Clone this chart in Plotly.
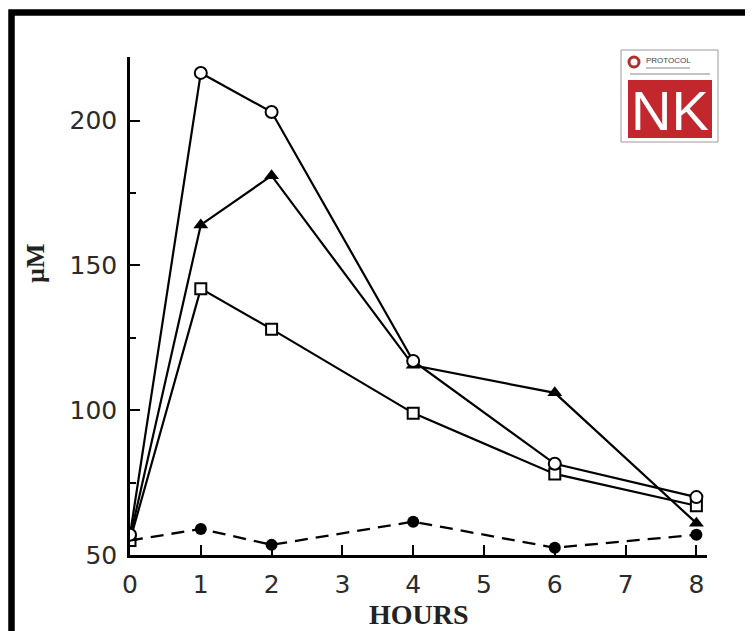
import plotly.graph_objects as go

hours = [0, 1, 2, 4, 6, 8]
open_circle = [57, 216.5, 203, 117, 81.5, 70]
filled_triangle = [56, 164, 181, 115.5, 106, 61]
open_square = [55, 142, 128, 99, 78, 67]
filled_circle = [55, 59, 53.5, 61.5, 52.5, 57]

x_ticks = [0, 1, 2, 3, 4, 5, 6, 7, 8]
y_ticks = [50, 100, 150, 200]

OFF = 8  # page body margin
W, H = 745, 623
L, T = 130 - OFF, 57 - OFF
R = W - (707 - OFF)
B = H - (555 - OFF)
PW, PH = W - L - R, H - T - B


def px(p):
    return (p - OFF - L) / PW


def py(q):
    return (H - B - (q - OFF)) / PH


fig = go.Figure()

common_line = dict(color="black", width=2.2)

fig.add_trace(go.Scatter(x=hours, y=filled_circle, mode="lines+markers",
                         line=dict(color="black", width=2.3, dash="13px,8px"),
                         marker=dict(symbol="circle", size=12, color="black"),
                         showlegend=False))
fig.add_trace(go.Scatter(x=hours, y=open_square, mode="lines+markers",
                         line=common_line,
                         marker=dict(symbol="square", size=11, color="white",
                                     line=dict(color="black", width=2)),
                         showlegend=False))
fig.add_trace(go.Scatter(x=hours, y=filled_triangle, mode="lines+markers",
                         line=common_line,
                         marker=dict(symbol="triangle-up", size=13, color="black"),
                         showlegend=False))
fig.add_trace(go.Scatter(x=hours, y=open_circle, mode="lines+markers",
                         line=common_line,
                         marker=dict(symbol="circle", size=12, color="white",
                                     line=dict(color="black", width=2)),
                         showlegend=False))

tickfont = dict(family="DejaVu Sans", size=25, color="#2b2b2b")

fig.update_xaxes(range=[0, 8.15], tickvals=x_ticks, ticktext=[str(v) for v in x_ticks],
                 ticks="inside", ticklen=10, tickwidth=2, tickcolor="black",
                 showline=True, linecolor="black", linewidth=2.5,
                 showgrid=False, zeroline=False, tickfont=tickfont,
                 ticklabelstandoff=5)
fig.update_yaxes(range=[50, 222], tickvals=y_ticks, ticktext=[str(v) for v in y_ticks],
                 ticks="inside", ticklen=10, tickwidth=2, tickcolor="black",
                 minor=dict(tickvals=[75, 125, 175], ticks="inside", ticklen=6,
                            tickwidth=2, tickcolor="black"),
                 showline=True, linecolor="black", linewidth=2.5,
                 showgrid=False, zeroline=False, tickfont=tickfont,
                 ticklabelstandoff=5)

shapes = []
# outer frame
shapes.append(dict(type="rect", xref="paper", yref="paper",
                   x0=px(11.5), x1=px(750), y0=py(12.5), y1=py(660),
                   line=dict(color="black", width=6.5), fillcolor="rgba(0,0,0,0)", layer="above"))
# logo
shapes.append(dict(type="rect", xref="paper", yref="paper",
                   x0=px(621), x1=px(718), y0=py(142), y1=py(50),
                   line=dict(color="#9a9a9a", width=1), fillcolor="white", layer="above"))
shapes.append(dict(type="rect", xref="paper", yref="paper",
                   x0=px(628), x1=px(712), y0=py(138), y1=py(80),
                   line=dict(width=0), fillcolor="#c1272d", layer="above"))
shapes.append(dict(type="circle", xref="paper", yref="paper",
                   x0=px(629), x1=px(639), y0=py(67), y1=py(57),
                   line=dict(color="#b52a2a", width=3), fillcolor="white", layer="above"))
for (a, b, yy) in [(646, 690, 68), (630, 710, 74)]:
    shapes.append(dict(type="line", xref="paper", yref="paper",
                       x0=px(a), x1=px(b), y0=py(yy), y1=py(yy),
                       line=dict(color="#8a8a8a", width=1.2), layer="above"))

annotations = [
    dict(text="<b>HOURS</b>", xref="paper", yref="paper", x=px(419), y=py(614),
         showarrow=False, font=dict(family="Liberation Serif", size=28, color="#222"),
         xanchor="center", yanchor="middle"),
    dict(text="<b>µM</b>", xref="paper", yref="paper", x=px(35), y=py(263),
         showarrow=False, textangle=-90,
         font=dict(family="Liberation Serif", size=26, color="#222"),
         xanchor="center", yanchor="middle"),
    dict(text="PROTOCOL", xref="paper", yref="paper", x=px(644), y=py(61),
         showarrow=False, font=dict(family="Liberation Sans", size=8, color="#444"),
         xanchor="left", yanchor="middle"),
    dict(text="NK", xref="paper", yref="paper", x=px(670), y=py(110),
         showarrow=False, font=dict(family="Liberation Sans", size=56, color="white"),
         xanchor="center", yanchor="middle"),
]

fig.update_layout(width=W, height=H, margin=dict(l=L, r=R, t=T, b=B),
                  paper_bgcolor="white", plot_bgcolor="white",
                  shapes=shapes, annotations=annotations, showlegend=False)

fig.write_html("out.html")
